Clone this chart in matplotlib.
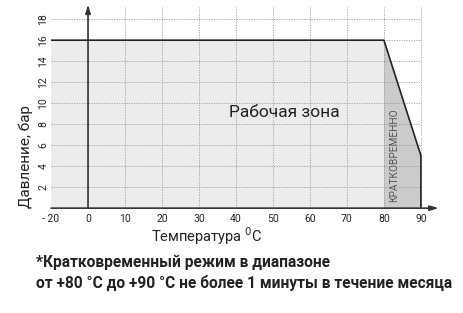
import matplotlib
matplotlib.use("Agg")
import matplotlib.pyplot as plt
from matplotlib.patches import Polygon

plt.rcParams['font.family'] = ['Roboto', 'DejaVu Sans']

# working zone outline (temperature, pressure)
zone_t = [-10, 80, 90, 90, -10]
zone_p = [16, 16, 5, 0, 0]
# short-term zone
short_t = [80, 90, 90, 80]
short_p = [16, 5, 0, 0]

x_ticks = [-10, 0, 10, 20, 30, 40, 50, 60, 70, 80, 90]
x_labels = ['- 20', '0', '10', '20', '30', '40', '50', '60', '70', '80', '90']
y_ticks = [2, 4, 6, 8, 10, 12, 14, 16, 18]
grid_x = [10, 20, 30, 40, 50, 60, 70, 80, 90]

fig = plt.figure(figsize=(4.64, 3.13), dpi=100)
ax = fig.add_axes([0.11, 0.335, 0.837, 0.654])
ax.set_xlim(-10, 95)
ax.set_ylim(0, 19.5)
for s in ax.spines.values():
    s.set_visible(False)

ax.add_patch(Polygon(list(zip(zone_t, zone_p)), closed=True, facecolor='#ececec', edgecolor='none', zorder=1))
ax.add_patch(Polygon(list(zip(short_t, short_p)), closed=True, facecolor='#cbcbcb', edgecolor='none', zorder=1))

ax.hlines(y_ticks, -10, 90, colors='#9a9a9a', linestyles=(0, (1.5, 1.5)), linewidth=0.6, zorder=2)
ax.vlines(grid_x, 0, 19.2, colors='#9a9a9a', linestyles=(0, (1.5, 1.5)), linewidth=0.6, zorder=2)

# outline
ax.plot(zone_t[:4], zone_p[:4], color='#222222', linewidth=1.2, zorder=3)

# axes with arrows
ax.annotate('', xy=(94.8, 0), xytext=(-10, 0),
            arrowprops=dict(arrowstyle='-|>,head_length=0.5,head_width=0.15', color='#333333', lw=1.2, shrinkA=0, shrinkB=0), zorder=4)
ax.annotate('', xy=(0, 19.4), xytext=(0, 0),
            arrowprops=dict(arrowstyle='-|>,head_length=0.5,head_width=0.15', color='#333333', lw=1.2, shrinkA=0, shrinkB=0), zorder=4)

ax.set_xticks(x_ticks)
ax.set_xticklabels(x_labels, fontsize=7.5, color='#222222')
ax.set_yticks(y_ticks)
ax.set_yticklabels([str(v) for v in y_ticks], fontsize=7.5, color='#222222', rotation=90, va='center')
ax.tick_params(length=0, pad=2)
ax.tick_params(axis='x', pad=4)

ax.text(53, 9.1, 'Рабочая зона', fontsize=12.5, ha='center', va='center', color='#222222')
ax.text(82.8, 5.0, 'КРАТКОВРЕМЕННО', fontsize=7.3, rotation=90, ha='center', va='center', color='#555555')

ax.set_xlabel('Температура $^{0}$C', fontsize=10.5, color='#222222')
ax.xaxis.set_label_coords(0.401, -0.085)
ax.set_ylabel('Давление, бар', fontsize=11, color='#222222', loc='bottom', labelpad=4)

fig.text(0.078, 0.163, '*Кратковременный режим в диапазоне', fontsize=11.2, fontweight='bold', color='#222222', va='center')
fig.text(0.078, 0.095, 'от +80 °C до +90 °C не более 1 минуты в течение месяца', fontsize=11.2, fontweight='bold', color='#222222', va='center')

fig.savefig('out.png', dpi=100)
